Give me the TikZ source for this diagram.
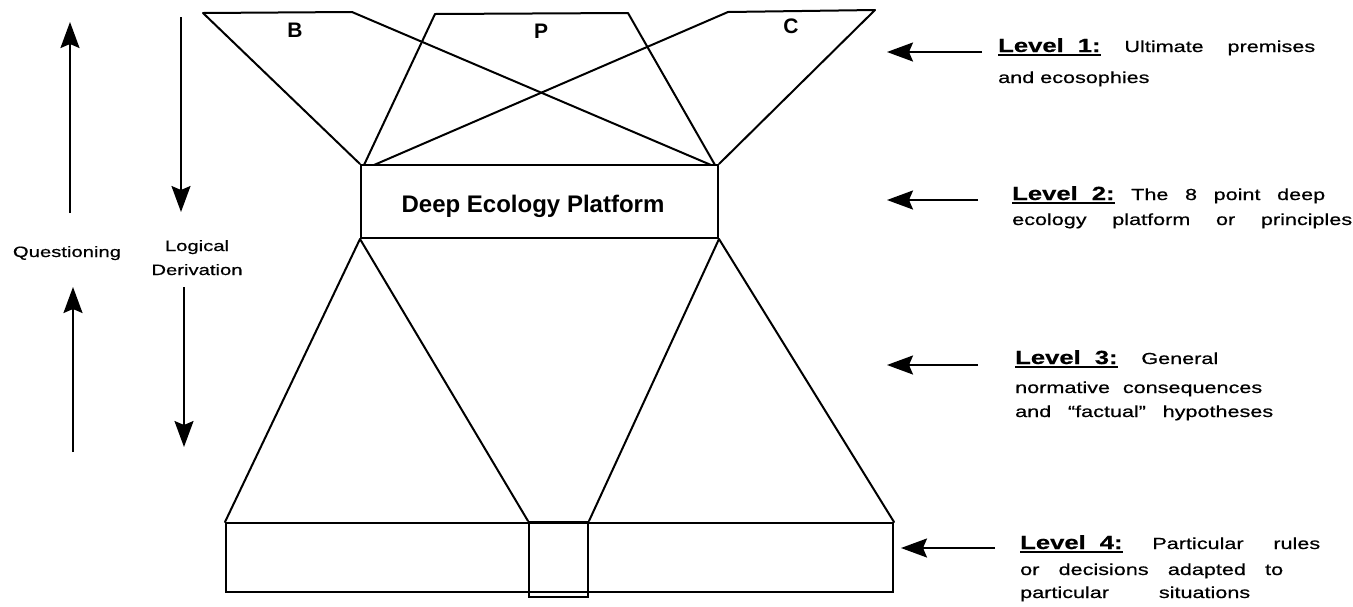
\documentclass[tikz,border=0pt]{standalone}
\usepackage{fontspec}
\setmainfont{Liberation Sans}
\newfontfamily\widefont[FakeStretch=1.35,FakeBold=0.6]{Liberation Sans}
\usetikzlibrary{arrows.meta}
\newsavebox\lvbox
\newcommand\lvlabel[1]{\sbox\lvbox{\fontsize{19}{21}\selectfont\bfseries #1}\rlap{\rule[-3.5pt]{\wd\lvbox}{1.8pt}}\usebox\lvbox}
\tikzset{
  ln/.style={line width=2pt, line join=round, line cap=round},
  boxn/.style={draw, line width=2pt, inner sep=0pt},
  arr/.style={line width=2pt, -{Stealth[length=26pt,width=19pt,inset=4pt]}},
  body/.style={inner sep=0pt, anchor=base west, font=\widefont\fontsize{16}{18}\selectfont},
  side/.style={inner sep=0pt, anchor=base, font=\widefont\fontsize{15}{17}\selectfont},
  letter/.style={inner sep=0pt, anchor=base, font=\fontsize{21}{23}\selectfont\bfseries}
}
\begin{document}
\begin{tikzpicture}[x=1pt,y=-1pt]
\useasboundingbox (0,0) rectangle (1353,606);
% platform box
\node[boxn, minimum width=357pt, minimum height=73pt] (plat) at (539.5,201.5) {};
\node[inner sep=0pt, anchor=base, font=\fontsize{24}{26}\selectfont\bfseries] (platlabel) at (533,212) {Deep Ecology Platform};
% bottom boxes
\node[boxn, minimum width=667pt, minimum height=69pt] (base) at (559.5,557.5) {};
\node[boxn, minimum width=59pt, minimum height=75pt] (mid) at (558.5,559.5) {};
% top polygons: coordinates
\coordinate (B1) at (203,13);
\coordinate (B2) at (352,12);
\coordinate (P1) at (435,14);
\coordinate (P2) at (628,13);
\coordinate (C1) at (728,12);
\coordinate (C2) at (875,10);
\coordinate (Bend) at (711,165);
\coordinate (Pl) at (364,165);
\coordinate (Pr) at (715,165);
\coordinate (Cend) at (374,165);
% B
\draw[ln] (plat.north west) -- (B1) -- (B2) -- (Bend);
% P
\draw[ln] (Pl) -- (P1) -- (P2) -- (Pr);
% C
\draw[ln] (Cend) -- (C1) -- (C2) -- (plat.north east);
% letters
\node[letter] (lB) at (295,37) {B};
\node[letter] (lP) at (541,38) {P};
\node[letter] (lC) at (791,33) {C};
% lower trapezoids
\draw[ln] (plat.south west) -- (base.north west);
\draw[ln] (plat.south west) -- (mid.north west);
\draw[ln] (plat.south east) -- (mid.north east);
\draw[ln] (plat.south east) -- (base.north east);
% left arrows
\coordinate (q1s) at (70,213); \coordinate (q1e) at (70,22);
\coordinate (q2s) at (73,452); \coordinate (q2e) at (73,287);
\coordinate (d1s) at (181,17); \coordinate (d1e) at (181,212);
\coordinate (d2s) at (184,287); \coordinate (d2e) at (184,447);
\draw[arr] (q1s) -- (q1e);
\draw[arr] (q2s) -- (q2e);
\draw[arr] (d1s) -- (d1e);
\draw[arr] (d2s) -- (d2e);
\node[side] (quest) at (67,257) {Questioning};
\node[side] (logi) at (197,251) {Logical};
\node[side] (deriv) at (197,275) {Derivation};
% right arrows
\coordinate (a1s) at (982,52); \coordinate (a1e) at (887,52);
\coordinate (a2s) at (978,200); \coordinate (a2e) at (887,200);
\coordinate (a3s) at (978,365); \coordinate (a3e) at (887,365);
\coordinate (a4s) at (995,548); \coordinate (a4e) at (901,548);
\draw[arr] (a1s) -- (a1e);
\draw[arr] (a2s) -- (a2e);
\draw[arr] (a3s) -- (a3e);
\draw[arr] (a4s) -- (a4e);
% level texts
\node[body] (l1a) at (998,52) {\makebox[317pt][s]{\lvlabel{Level\hspace{14pt}1:}\ Ultimate premises}};
\node[body] (l1b) at (998,83) {and ecosophies};
\node[body] (l2a) at (1012,200) {\makebox[313pt][s]{\lvlabel{Level\hspace{14pt}2:}\ The 8 point deep}};
\node[body] (l2b) at (1012,225) {\makebox[340pt][s]{ecology platform or principles}};
\node[body] (l3a) at (1015,364) {\makebox[203pt][s]{\lvlabel{Level\hspace{14pt}3:}\ General}};
\node[body] (l3b) at (1015,393) {\makebox[247pt][s]{normative consequences}};
\node[body] (l3c) at (1015,417) {\makebox[258pt][s]{and “factual” hypotheses}};
\node[body] (l4a) at (1020,549) {\makebox[300pt][s]{\lvlabel{Level\hspace{14pt}4:}\ Particular rules}};
\node[body] (l4b) at (1020,575) {\makebox[263pt][s]{or decisions adapted to}};
\node[body] (l4c) at (1020,598) {\makebox[230pt][s]{particular situations}};
\end{tikzpicture}
\end{document}
